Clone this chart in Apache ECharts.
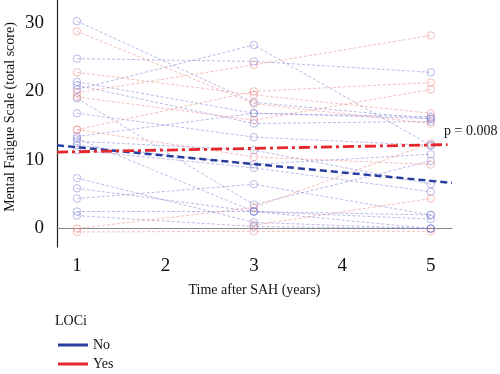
<!DOCTYPE html>
<html>
<head>
<meta charset="utf-8">
<script src="https://cdn.jsdelivr.net/npm/echarts@6/dist/echarts.min.js"></script>
<style>html,body{margin:0;padding:0;background:#fff;}#c{width:500px;height:374px;}</style>
</head>
<body>
<div id="c"></div>
<script>
// Measurement times (years after SAH)
const times = [1, 3, 5];
const xTicks = [1, 2, 3, 4, 5];
const yTicks = [0, 10, 20, 30];

// Individual trajectories, values at [1, 3, 5] years (null = missing)
const noSubjects = [
  [30.3, 18.4, 16.0],
  [24.8, 24.4, 22.8],
  [20.3, 26.8, 12.1],
  [21.4, 16.8, 16.3],
  [20.9, 15.3, 15.6],
  [19.0, 3.4, 9.8],
  [16.8, 13.3, 12.1],
  [13.4, 16.8, 16.0],
  [13.1, 2.4, 1.3],
  [12.7, 11.4, 6.4],
  [12.1, 9.3, 10.8],
  [11.4, 8.8, 5.3],
  [7.3, 0.8, -0.1],
  [5.8, 2.4, 1.9],
  [4.3, 6.4, 1.9],
  [2.4, 2.4, -0.1],
  [1.8, 0.2, -0.1]
];
const yesSubjects = [
  [28.8, 18.2, 15.3],
  [22.8, 19.5, 16.8],
  [14.4, 20.0, 21.3],
  [19.8, 23.9, 28.2],
  [19.2, 15.8, 20.3],
  [14.4, 10.4, 9.3],
  [-0.1, 3.0, 12.4],
  [-0.6, -0.5, -0.5],
  [null, 0.4, 4.3]
];

// Fitted trend lines (x ends, y ends)
const trendNoX = [0.774, 5.24];
const trendNoY = [12.1, 6.6];
const trendYesX = [0.774, 5.19];
const trendYesY = [11.1, 12.2];

const serif = 'Liberation Serif, DejaVu Serif, serif';
const paleBlue = 'rgba(115,115,210,0.55)';
const paleRed = 'rgba(235,120,120,0.55)';
const darkBlue = '#2a3f9d';
const brightRed = '#e5262b';

function subjectSeries(list, color, prefix) {
  return list.map((vals, i) => ({
    name: prefix + i,
    type: 'line',
    data: times.map((t, k) => vals[k] == null ? null : [t, vals[k]]).filter(d => d),
    symbol: 'circle',
    symbolSize: 7.5,
    itemStyle: { color: 'rgba(255,255,255,0)', borderColor: color, borderWidth: 0.9 },
    lineStyle: { color: color, width: 0.9, type: [3, 2] },
    z: 2,
    silent: true,
    animation: false
  }));
}

const series = []
  .concat(subjectSeries(noSubjects, paleBlue, 'n'))
  .concat(subjectSeries(yesSubjects, paleRed, 'y'));

series.push({
  name: 'No', type: 'line', symbol: 'none', animation: false, z: 5,
  data: trendNoX.map((x, i) => [x, trendNoY[i]]),
  itemStyle: { color: darkBlue },
  lineStyle: { color: darkBlue, width: 2.5, type: [7, 4] }
});
series.push({
  name: 'Yes', type: 'line', symbol: 'none', animation: false, z: 6,
  data: trendYesX.map((x, i) => [x, trendYesY[i]]),
  itemStyle: { color: brightRed },
  lineStyle: { color: brightRed, width: 2.8, type: [11, 4, 3, 4] }
});

const chart = echarts.init(document.getElementById('c'), null, { renderer: 'canvas' });
chart.setOption({
  backgroundColor: '#fff',
  animation: false,
  grid: { left: 57, right: 48, top: 0, bottom: 127, containLabel: false },
  xAxis: {
    type: 'value', min: 0.774, max: 5.24,
    axisLine: { show: true, lineStyle: { color: '#8a8a8a', width: 1.2 } },
    axisTick: { show: false },
    splitLine: { show: false },
    axisLabel: { customValues: xTicks, color: '#111', fontFamily: serif, fontSize: 19, margin: 10 },
    name: 'Time after SAH (years)', nameLocation: 'middle', nameGap: 36,
    nameTextStyle: { color: '#111', fontFamily: serif, fontSize: 14 }
  },
  yAxis: {
    type: 'value', min: -2.8, max: 33.4,
    axisLine: { show: true, lineStyle: { color: '#222', width: 1.2 } },
    axisTick: { show: false },
    splitLine: { show: false },
    axisLabel: { customValues: yTicks, color: '#111', fontFamily: serif, fontSize: 19, margin: 13 }
  },
  legend: {
    data: [{ name: 'No', icon: 'rect', itemStyle: { color: darkBlue } }, { name: 'Yes', icon: 'rect', itemStyle: { color: brightRed } }],
    orient: 'vertical', left: 58, top: 338, padding: 0, height: 36,
    itemWidth: 30, itemHeight: 3, itemGap: 5,
    textStyle: { color: '#111', fontFamily: serif, fontSize: 14 },
    selectedMode: false
  },
  graphic: [
    { type: 'text', left: 55, top: 314, style: { text: 'LOCi', fill: '#111', font: '14px ' + serif } },
    { type: 'text', left: 444, top: 124, style: { text: 'p = 0.008', fill: '#111', font: '14px ' + serif } },
    { type: 'text', x: 10, y: 117, rotation: Math.PI / 2,
      style: { text: 'Mental Fatigue Scale (total score)', fill: '#111', font: '14px ' + serif, align: 'center', verticalAlign: 'middle' } }
  ],
  series: series
});
</script>
</body>
</html>
